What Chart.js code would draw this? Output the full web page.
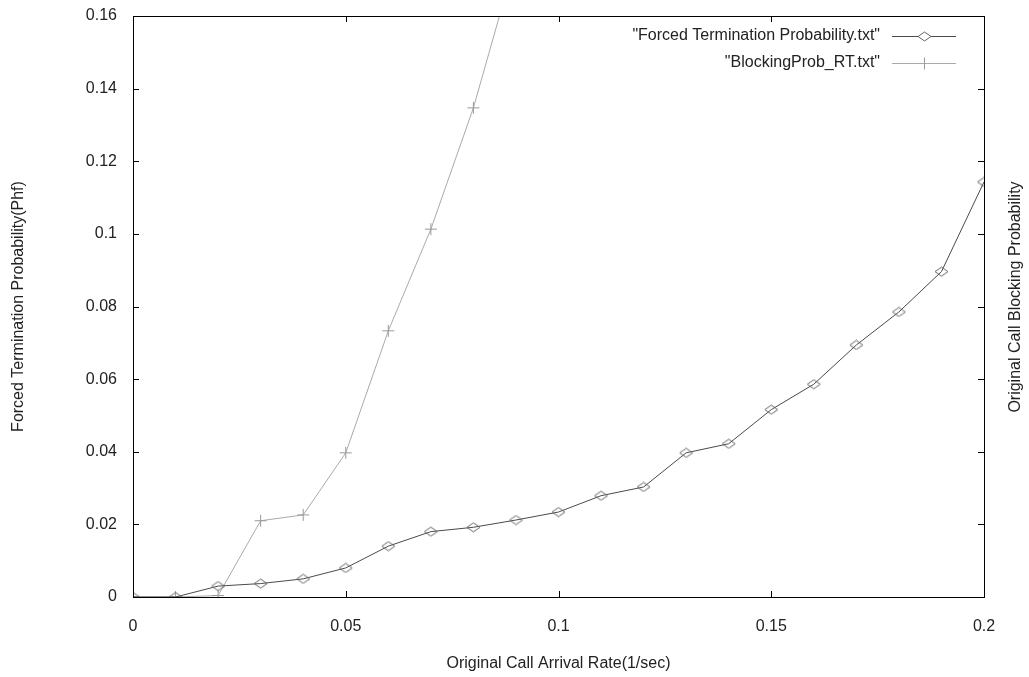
<!DOCTYPE html>
<html>
<head>
<meta charset="utf-8">
<script src="https://cdn.jsdelivr.net/npm/chart.js@4.4.0/dist/chart.umd.min.js"></script>
<style>
  html, body { margin: 0; padding: 0; background: #fff; }
  #wrap { width: 1029px; height: 677px; }
</style>
</head>
<body>
<div id="wrap"><canvas id="chart"></canvas></div>
<script>
// data
const arrivalRate = [0, 0.01, 0.02, 0.03, 0.04, 0.05, 0.06, 0.07, 0.08, 0.09, 0.10,
                     0.11, 0.12, 0.13, 0.14, 0.15, 0.16, 0.17, 0.18, 0.19, 0.20];
const forcedTermination = [0, 0, 0.003, 0.0037, 0.005, 0.008, 0.014, 0.018, 0.0192, 0.0212, 0.0234,
                           0.0279, 0.0303, 0.0397, 0.0422, 0.0516, 0.0586, 0.0694, 0.0785, 0.0896, 0.1143];
const blockingRate = [0, 0.01, 0.02, 0.03, 0.04, 0.05, 0.06, 0.07, 0.08, 0.09];
const blockingProb = [0, 0, 0.0004, 0.021, 0.0226, 0.0397, 0.0733, 0.1013, 0.1347, 0.176];
const xTicks = [0, 0.05, 0.1, 0.15, 0.2];
const yTicks = [0, 0.02, 0.04, 0.06, 0.08, 0.1, 0.12, 0.14, 0.16];

const FONT = "'Liberation Sans', Arial, sans-serif";
const FSIZE = 16;
const TXT = '#222';
const fmt = v => String(Number(v.toFixed(2)));

// flat gnuplot-style diamond (wider than tall)
function makeDiamond(color) {
    const c = document.createElement('canvas');
    c.width = 15; c.height = 11;
    const g = c.getContext('2d');
    g.strokeStyle = color;
    g.lineWidth = 1;
    g.beginPath();
    g.moveTo(1, 5.5); g.lineTo(7.5, 1); g.lineTo(14, 5.5); g.lineTo(7.5, 10); g.closePath();
    g.stroke();
    return c;
}
const diamond = makeDiamond('#666');

// frame, inward mirrored ticks, key and the right-hand label
const framePlugin = {
    id: 'frame',
    beforeInit(chart) {
        chart.ctx.letterSpacing = '0.5px';
    },
    afterDatasetsDraw(chart) {
        const { ctx, chartArea: a, scales } = chart;
        ctx.save();
        ctx.strokeStyle = '#000';
        ctx.lineWidth = 1;
        ctx.strokeRect(a.left + 0.5, a.top + 0.5, a.right - a.left, a.bottom - a.top);
        ctx.beginPath();
        xTicks.forEach(v => {
            const x = Math.round(scales.x.getPixelForValue(v)) + 0.5;
            ctx.moveTo(x, a.bottom); ctx.lineTo(x, a.bottom - 6);
            ctx.moveTo(x, a.top); ctx.lineTo(x, a.top + 6);
        });
        yTicks.forEach(v => {
            const y = Math.round(scales.y.getPixelForValue(v)) + 0.5;
            ctx.moveTo(a.left, y); ctx.lineTo(a.left + 6, y);
            ctx.moveTo(a.right, y); ctx.lineTo(a.right - 6, y);
        });
        ctx.stroke();

        // key
        ctx.font = FSIZE + 'px ' + FONT;
        ctx.fillStyle = TXT;
        ctx.textAlign = 'right';
        ctx.textBaseline = 'middle';
        const rows = [36, 63];
        chart.data.datasets.forEach((ds, i) => {
            const y = rows[i] + 0.5;
            ctx.fillText(ds.label, 880, rows[i]);
            ctx.strokeStyle = ds.borderColor;
            ctx.lineWidth = 1;
            ctx.beginPath();
            ctx.moveTo(892, y); ctx.lineTo(956, y);
            ctx.stroke();
            if (ds.pointStyle === diamond) {
                ctx.fillStyle = '#fff';
                ctx.fillRect(918, y - 4, 13, 8);
                ctx.drawImage(diamond, 917, Math.round(y - 5.5));
                ctx.fillStyle = TXT;
            } else {
                ctx.strokeStyle = ds.pointBorderColor;
                ctx.beginPath();
                ctx.moveTo(924.5, y - 6); ctx.lineTo(924.5, y + 6);
                ctx.stroke();
            }
        });

        // right axis label, reading bottom to top
        ctx.save();
        ctx.translate(1016, 297);
        ctx.rotate(-Math.PI / 2);
        ctx.textAlign = 'center';
        ctx.fillText('Original Call Blocking Probability', 0, 0);
        ctx.restore();
        ctx.restore();
    }
};

new Chart(document.getElementById('chart'), {
    type: 'line',
    data: {
        datasets: [
            {
                label: '"Forced Termination Probability.txt"',
                data: arrivalRate.map((x, i) => ({ x, y: forcedTermination[i] })),
                borderColor: '#4a4a4a',
                borderWidth: 1,
                pointStyle: diamond,
                pointRadius: 6,
                tension: 0
            },
            {
                label: '"BlockingProb_RT.txt"',
                data: blockingRate.map((x, i) => ({ x, y: blockingProb[i] })),
                borderColor: '#aaa',
                borderWidth: 1,
                pointStyle: 'cross',
                pointRadius: 6,
                pointBorderColor: '#999',
                pointBorderWidth: 1,
                tension: 0
            }
        ]
    },
    options: {
        responsive: true,
        maintainAspectRatio: false,
        animation: false,
        layout: { padding: { top: 16, right: 45, left: 0, bottom: 0 } },
        plugins: { legend: { display: false }, tooltip: { enabled: false } },
        scales: {
            x: {
                type: 'linear', min: 0, max: 0.2,
                afterBuildTicks: s => { s.ticks = xTicks.map(v => ({ value: v })); },
                afterFit: s => { s.height = 80; s.paddingLeft = 0; s.paddingRight = 0; },
                grid: { display: false, drawTicks: false },
                border: { display: false },
                ticks: { padding: 20, color: TXT, font: { family: FONT, size: FSIZE }, callback: fmt, maxRotation: 0 },
                title: { display: true, text: 'Original Call Arrival Rate(1/sec)', color: TXT,
                         font: { family: FONT, size: FSIZE }, padding: { top: 15 } }
            },
            y: {
                type: 'linear', min: 0, max: 0.16,
                afterBuildTicks: s => { s.ticks = yTicks.map(v => ({ value: v })); },
                afterFit: s => { s.width = 133; s.paddingTop = 0; s.paddingBottom = 0; },
                grid: { display: false, drawTicks: false },
                border: { display: false },
                ticks: { padding: 16, color: TXT, font: { family: FONT, size: FSIZE }, callback: fmt },
                title: { display: true, text: 'Forced Termination Probability(Phf)', color: TXT,
                         font: { family: FONT, size: FSIZE }, padding: { top: 9 } }
            }
        }
    },
    plugins: [framePlugin]
});
</script>
</body>
</html>
